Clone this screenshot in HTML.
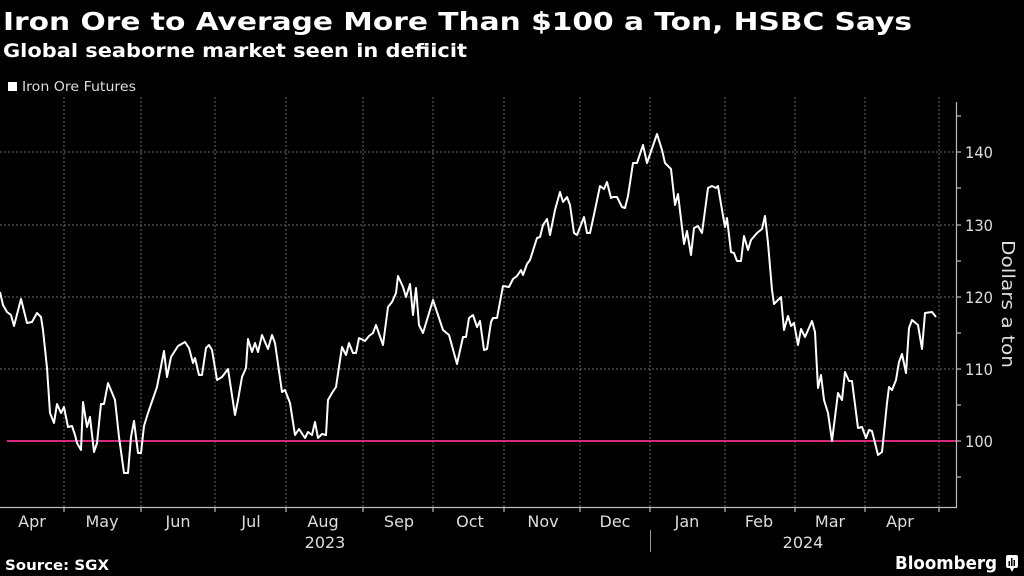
<!DOCTYPE html>
<html>
<head>
<meta charset="utf-8">
<style>
html,body{margin:0;padding:0;background:#000;}
svg{display:block;}
</style>
</head>
<body>
<svg width="1024" height="576" viewBox="0 0 1024 576" xmlns="http://www.w3.org/2000/svg">
<rect width="1024" height="576" fill="#000"/>
<!-- Title -->
<text x="3" y="30" font-family="DejaVu Sans, Liberation Sans, sans-serif" font-weight="bold" font-size="25" fill="#fff" textLength="909" lengthAdjust="spacingAndGlyphs">Iron Ore to Average More Than $100 a Ton, HSBC Says</text>
<text x="3" y="57" font-family="DejaVu Sans, Liberation Sans, sans-serif" font-weight="bold" font-size="19" fill="#fff" textLength="464" lengthAdjust="spacingAndGlyphs">Global seaborne market seen in defiicit</text>
<!-- Legend -->
<rect x="8" y="82" width="9" height="9" fill="#fff"/>
<text x="22" y="91" font-family="DejaVu Sans, Liberation Sans, sans-serif" font-size="13" fill="#ddd" textLength="114" lengthAdjust="spacingAndGlyphs">Iron Ore Futures</text>

<!-- Horizontal gridlines -->
<g stroke="#6a6a6a" stroke-width="1" stroke-dasharray="2,2">
<line x1="0" y1="369" x2="956" y2="369"/>
<line x1="0" y1="297" x2="956" y2="297"/>
<line x1="0" y1="225" x2="956" y2="225"/>
<line x1="0" y1="152" x2="956" y2="152"/>
</g>
<!-- Vertical gridlines -->
<g stroke="#6a6a6a" stroke-width="1" stroke-dasharray="2,2">
<line x1="64" y1="97" x2="64" y2="507"/>
<line x1="141" y1="97" x2="141" y2="507"/>
<line x1="215" y1="97" x2="215" y2="507"/>
<line x1="286" y1="97" x2="286" y2="507"/>
<line x1="363" y1="97" x2="363" y2="507"/>
<line x1="433" y1="97" x2="433" y2="507"/>
<line x1="504" y1="97" x2="504" y2="507"/>
<line x1="580" y1="97" x2="580" y2="507"/>
<line x1="650" y1="97" x2="650" y2="507"/>
<line x1="725" y1="97" x2="725" y2="507"/>
<line x1="795" y1="97" x2="795" y2="507"/>
<line x1="865" y1="97" x2="865" y2="507"/>
<line x1="939" y1="97" x2="939" y2="507"/>
</g>

<!-- 100 reference line -->
<line x1="7" y1="441" x2="956" y2="441" stroke="#d8287a" stroke-width="2"/>

<!-- Data -->
<polyline fill="none" stroke="#fff" stroke-width="2" stroke-linejoin="round" points="0,292 3,305 7,312 11,315 14,326 21,299 27,323 32,322 37,313 41,317 43,330 47,368 50,413 54,423 57,404 61,413 64,407 68,427 72,426 75,435 77,443 81,450 83,402 87,427 90,417 94,452 97,443 101,404 104,404 108,383 115,400 119,437 124,473 128,473 131,437 134,421 138,453 141,453 144,426 148,413 157,387 164,351 167,377 171,357 178,346 185,342 189,348 193,363 195,358 199,375 202,375 206,348 209,345 212,350 217,380 222,377 228,369 235,415 238,400 242,377 246,368 248,339 252,352 255,343 258,352 262,335 268,349 272,335 275,343 282,392 285,390 290,403 295,435 299,429 305,438 308,432 312,435 315,422 318,438 322,434 326,435 328,400 332,393 336,387 342,347 346,355 349,343 353,353 356,353 359,338 365,341 369,336 373,333 376,325 383,345 388,307 392,302 396,293 398,276 403,287 406,297 410,284 413,315 416,288 419,325 423,333 433,300 443,330 449,335 457,364 463,337 466,337 469,318 473,315 477,327 480,321 484,350 487,349 491,322 493,318 497,318 503,286 509,287 513,279 517,276 521,270 523,275 527,264 530,260 537,238 540,237 543,225 547,219 550,235 555,210 560,192 563,202 567,197 570,205 574,233 577,235 584,217 587,233 590,233 595,210 600,186 604,189 607,182 611,198 613,197 617,197 622,207 625,208 628,196 633,163 637,163 643,145 647,163 657,134 662,150 665,163 671,169 675,205 678,194 684,244 687,231 691,255 694,228 698,226 702,233 708,188 712,186 716,188 718,186 722,210 725,227 727,218 731,252 734,253 737,261 741,261 744,236 748,250 751,240 757,233 762,229 765,216 768,243 772,290 774,304 778,300 781,297 784,330 788,316 791,326 794,323 798,345 801,329 805,337 812,321 815,332 818,388 821,375 824,400 828,413 832,441 838,393 842,400 845,372 849,381 852,381 858,428 862,427 866,438 869,430 872,431 878,455 882,452 887,403 889,387 892,390 896,380 899,362 902,354 906,373 909,328 912,320 918,325 922,349 925,313 932,312 936,317"/>

<!-- Axes -->
<g stroke="#bbb" stroke-width="1.2">
<line x1="0" y1="507.5" x2="957" y2="507.5"/>
<line x1="956.5" y1="102" x2="956.5" y2="508"/>
<!-- y ticks -->
<line x1="956" y1="441" x2="961" y2="441"/>
<line x1="956" y1="369" x2="961" y2="369"/>
<line x1="956" y1="297" x2="961" y2="297"/>
<line x1="956" y1="225" x2="961" y2="225"/>
<line x1="956" y1="152" x2="961" y2="152"/>
<line x1="956" y1="477" x2="961" y2="477"/>
<line x1="956" y1="405" x2="961" y2="405"/>
<line x1="956" y1="333" x2="961" y2="333"/>
<line x1="956" y1="261" x2="961" y2="261"/>
<line x1="956" y1="188" x2="961" y2="188"/>
<line x1="956" y1="116" x2="961" y2="116"/>
<!-- x ticks -->
<line x1="64" y1="507" x2="64" y2="512"/>
<line x1="141" y1="507" x2="141" y2="512"/>
<line x1="215" y1="507" x2="215" y2="512"/>
<line x1="286" y1="507" x2="286" y2="512"/>
<line x1="363" y1="507" x2="363" y2="512"/>
<line x1="433" y1="507" x2="433" y2="512"/>
<line x1="504" y1="507" x2="504" y2="512"/>
<line x1="580" y1="507" x2="580" y2="512"/>
<line x1="650" y1="507" x2="650" y2="512"/>
<line x1="725" y1="507" x2="725" y2="512"/>
<line x1="795" y1="507" x2="795" y2="512"/>
<line x1="865" y1="507" x2="865" y2="512"/>
<line x1="939" y1="507" x2="939" y2="512"/>
</g>
<!-- year separator -->
<line x1="650.5" y1="530" x2="650.5" y2="552" stroke="#999" stroke-width="1"/>

<!-- Y labels -->
<g font-family="DejaVu Sans, Liberation Sans, sans-serif" font-size="16" fill="#ddd">
<text x="965" y="447" textLength="28" lengthAdjust="spacingAndGlyphs">100</text>
<text x="965" y="375" textLength="28" lengthAdjust="spacingAndGlyphs">110</text>
<text x="965" y="303" textLength="28" lengthAdjust="spacingAndGlyphs">120</text>
<text x="965" y="231" textLength="28" lengthAdjust="spacingAndGlyphs">130</text>
<text x="965" y="158" textLength="28" lengthAdjust="spacingAndGlyphs">140</text>
</g>
<text transform="translate(1002,304) rotate(90)" text-anchor="middle" font-family="DejaVu Sans, Liberation Sans, sans-serif" font-size="18" fill="#ddd" textLength="128" lengthAdjust="spacingAndGlyphs">Dollars a ton</text>

<!-- X labels -->
<g font-family="DejaVu Sans, Liberation Sans, sans-serif" font-size="16" fill="#ddd" text-anchor="middle">
<text x="32" y="527">Apr</text>
<text x="102" y="527">May</text>
<text x="178" y="527">Jun</text>
<text x="251" y="527">Jul</text>
<text x="323" y="527">Aug</text>
<text x="399" y="527">Sep</text>
<text x="470" y="527">Oct</text>
<text x="543" y="527">Nov</text>
<text x="615" y="527">Dec</text>
<text x="687" y="527">Jan</text>
<text x="759" y="527">Feb</text>
<text x="830" y="527">Mar</text>
<text x="900" y="527">Apr</text>
<text x="325" y="548">2023</text>
<text x="803" y="548">2024</text>
</g>

<!-- Footer -->
<text x="5" y="570" font-family="DejaVu Sans, Liberation Sans, sans-serif" font-weight="bold" font-size="14" fill="#fff" textLength="104" lengthAdjust="spacingAndGlyphs">Source: SGX</text>
<text x="895" y="569" font-family="DejaVu Sans, Liberation Sans, sans-serif" font-weight="bold" font-size="18" fill="#fff" textLength="102" lengthAdjust="spacingAndGlyphs">Bloomberg</text>
<g>
<rect x="1006" y="555" width="12" height="13" rx="2" fill="#fff"/>
<polygon points="1010,568 1014,568 1012,572" fill="#fff"/>
<rect x="1008.5" y="561" width="1.5" height="5" fill="#000"/>
<rect x="1011" y="558" width="1.5" height="8" fill="#000"/>
<rect x="1013.5" y="560" width="1.5" height="6" fill="#000"/>
</g>
</svg>
</body>
</html>
